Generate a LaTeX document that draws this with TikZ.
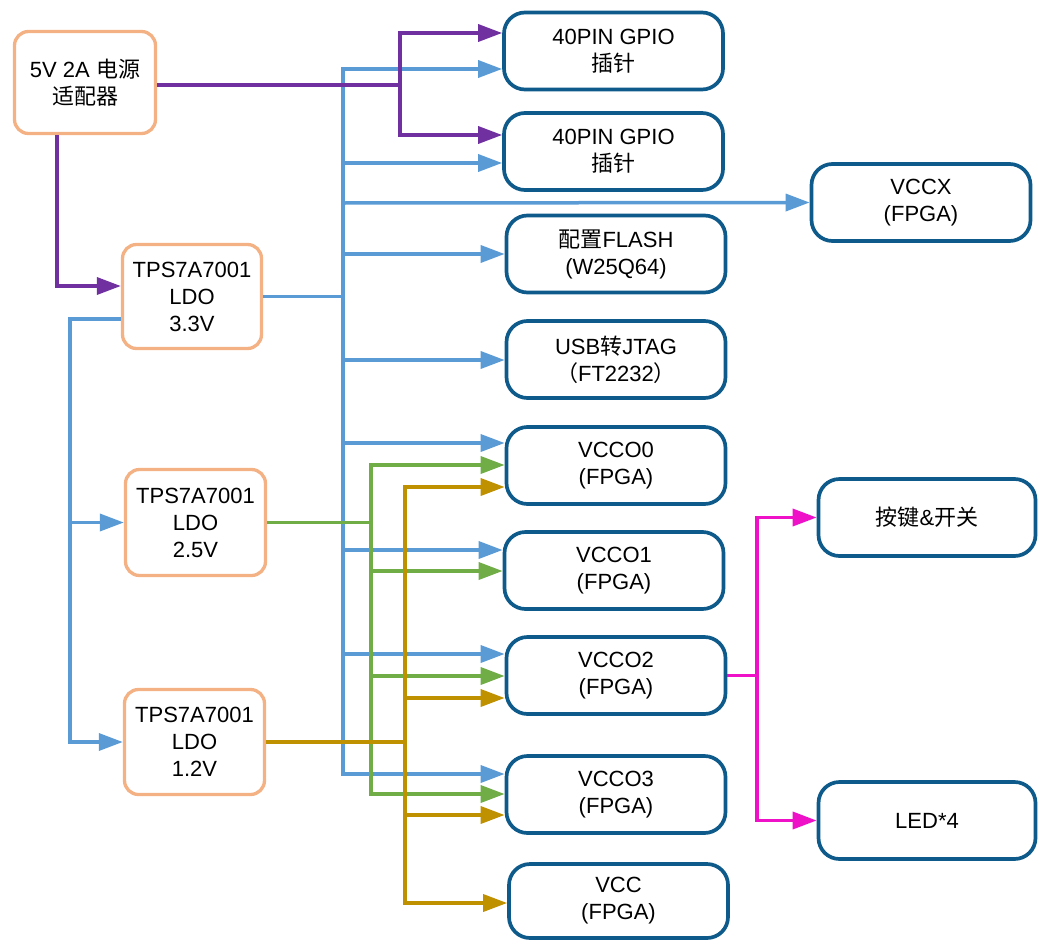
\documentclass[tikz,border=0pt]{standalone}
\usepackage{fontspec}
\setmainfont{Liberation Sans}
\newfontfamily\cjk{Noto Sans CJK SC}
\usetikzlibrary{arrows.meta}
\definecolor{orangeb}{HTML}{F4B183}
\definecolor{darkb}{HTML}{0E5A8A}
\definecolor{lblue}{HTML}{5B9BD5}
\definecolor{purp}{HTML}{7030A0}
\definecolor{grn}{HTML}{70AD47}
\definecolor{gold}{HTML}{BF9000}
\definecolor{mag}{HTML}{EE11C8}
\begin{document}
\begin{tikzpicture}[x=1pt,y=-1pt,
  every node/.style={font=\fontsize{22}{27}\selectfont, align=center, inner sep=0pt},
  srcbox/.style={draw=orangeb, line width=3.3pt, rounded corners=14pt, fill=white},
  dstbox/.style={draw=darkb, line width=3.7pt, rounded corners=21pt, fill=white,
                 minimum width=219pt, minimum height=77pt},
  wire/.style={line width=3.5pt},
  tip/.style={-{Triangle[length=24pt,width=17pt]}},
  tips/.style={{Triangle[length=24pt,width=17pt]}-{Triangle[length=24pt,width=17pt]}}
]
\useasboundingbox (0,0) rectangle (1040,942);

% source boxes
\node[srcbox, minimum width=141pt, minimum height=102pt] (ad) at (85,82.5) {5V 2A {\cjk 电源}\\{\cjk 适配器}};
\node[srcbox, minimum width=139pt, minimum height=104pt] (t33) at (192,296.5) {TPS7A7001\\LDO\\3.3V};
\node[srcbox, minimum width=140pt, minimum height=106pt] (t25) at (195.5,522.5) {TPS7A7001\\LDO\\2.5V};
\node[srcbox, minimum width=140pt, minimum height=105pt] (t12) at (194.5,742) {TPS7A7001\\LDO\\1.2V};

% destination boxes
\node[dstbox] (gp1) at (613.5,51) {40PIN GPIO\\{\cjk 插针}};
\node[dstbox] (gp2) at (613.5,151.5) {40PIN GPIO\\{\cjk 插针}};
\node[dstbox] (vx) at (921,202.5) {VCCX\\(FPGA)};
\node[dstbox] (fl) at (616,254) {{\cjk 配置}FLASH\\(W25Q64)};
\node[dstbox] (usb) at (616,359.5) {USB{\cjk 转}JTAG\\{\cjk （}FT2232{\cjk ）}};
\node[dstbox] (v0) at (616,465.5) {VCCO0\\(FPGA)};
\node[dstbox] (v1) at (614,570.5) {VCCO1\\(FPGA)};
\node[dstbox] (v2) at (616,675.5) {VCCO2\\(FPGA)};
\node[dstbox] (v3) at (616,794.5) {VCCO3\\(FPGA)};
\node[dstbox, minimum height=74pt] (vcc) at (618.5,901) {VCC\\(FPGA)};
\node[dstbox, minimum width=217pt] (kb) at (927,517.5) {{\cjk 按键}\&{\cjk 开关}};
\node[dstbox, minimum width=217pt] (led) at (927,820.5) {LED*4};

% junction coordinates
\coordinate (bt) at (343,69);
\coordinate (bb) at (343,774);
\coordinate (gt) at (371,465);
\coordinate (gb) at (371,794);
\coordinate (ot) at (405,487);
\coordinate (ob) at (405,903);
\coordinate (pt) at (400,33);
\coordinate (pb) at (400,135);
\coordinate (mt) at (757,517.5);
\coordinate (mb) at (757,820.5);
\coordinate (lt) at (70,319);
\coordinate (lb) at (70,742);
\coordinate (pd) at (57,286);

% blue 3.3V
\draw[wire,lblue] (t33.east) -- (t33.east -| bt);
\draw[wire,lblue,tips] (v3.west |- bb) -- (bb) -- (bt) -- (gp1.west |- bt);
\foreach \n/\y in {gp2/163, fl/254, usb/360, v0/443, v1/550, v2/654}
  \draw[wire,lblue,tip] (bt |- 0,\y) -- (\n.west |- 0,\y);
\draw[wire,lblue,tip] (bt |- 0,203) -- (vx.west);
\draw[wire,lblue,tip] (t33.west |- lt) -- (lt) -- (lb) -- (t12.west);
\draw[wire,lblue,tip] (lt |- t25.west) -- (t25.west);

% green 2.5V
\draw[wire,grn,tips] (v0.west |- gt) -- (gt) -- (gb) -- (v3.west |- gb);
\foreach \n/\y in {v1/571, v2/676}
  \draw[wire,grn,tip] (gt |- 0,\y) -- (\n.west |- 0,\y);
\draw[wire,grn] (t25.east) -- (t25.east -| gt);

% gold 1.2V
\draw[wire,gold,tips] (v0.west |- ot) -- (ot) -- (ob) -- (vcc.west |- ob);
\foreach \n/\y in {v2/698, v3/815}
  \draw[wire,gold,tip] (ot |- 0,\y) -- (\n.west |- 0,\y);
\draw[wire,gold] (t12.east) -- (t12.east -| ot);

% purple 5V
\draw[wire,purp,tips] (gp1.west |- pt) -- (pt) -- (pb) -- (gp2.west |- pb);
\draw[wire,purp] (ad.east |- 0,85) -- (pt |- 0,85);
\draw[wire,purp,tip] (ad.south -| pd) -- (pd) -- (t33.west |- pd);

% magenta
\draw[wire,mag,tips] (kb.west) -- (mt) -- (mb) -- (led.west);
\draw[wire,mag] (v2.east) -- (v2.east -| mt);
\end{tikzpicture}
\end{document}
